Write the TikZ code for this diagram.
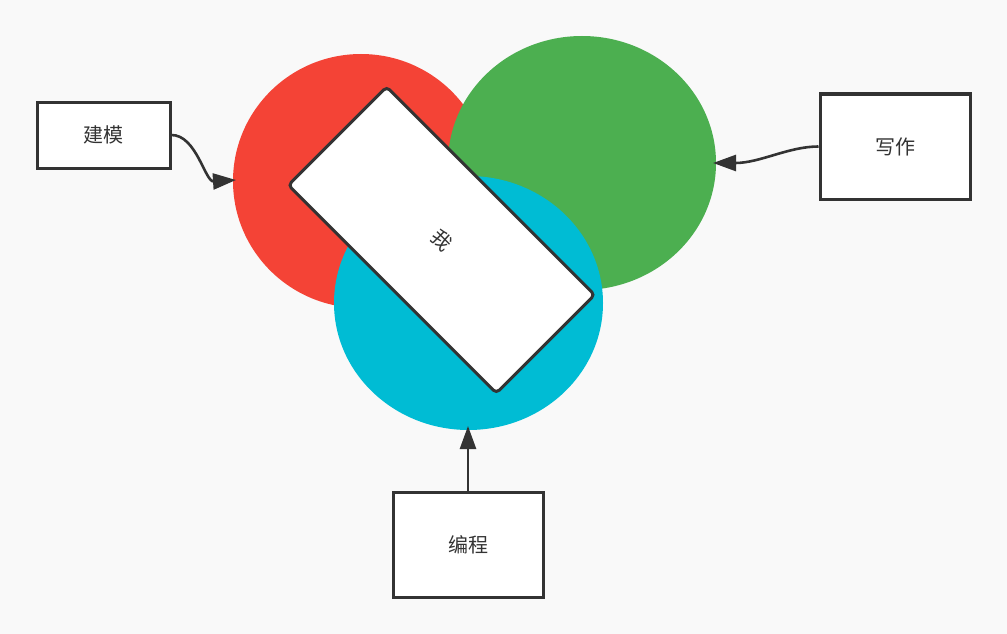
\documentclass[tikz,border=0pt]{standalone}
\usepackage{fontspec}
\setmainfont{Noto Sans CJK SC}
\usetikzlibrary{arrows.meta}
\definecolor{bg}{HTML}{F9F9F9}
\definecolor{cred}{HTML}{F44336}
\definecolor{cgreen}{HTML}{4CAF50}
\definecolor{ccyan}{HTML}{00BCD4}
\definecolor{ink}{HTML}{333333}
\newcommand{\lbl}[1]{\raisebox{-1.5pt}{#1}}
\begin{document}
\begin{tikzpicture}[x=1pt,y=-1pt,
  box/.style={draw=ink, line width=3pt, fill=white, inner sep=0pt, font=\fontsize{20}{24}\selectfont, text=ink},
  conn/.style={draw=ink, line width=2.6pt, -{Triangle[length=23pt,width=16pt]}}]
\path[fill=bg, use as bounding box] (0,0) rectangle (1007,634);
% blobs
\fill[cred] (361,181) ellipse [x radius=128pt, y radius=127pt];
\fill[cgreen] (582,163) ellipse [x radius=134pt, y radius=127pt];
\fill[ccyan] (468.5,303) ellipse [x radius=134.5pt, y radius=127pt];
\coordinate (tipL) at (236,180);
\coordinate (tipR) at (713,163);
\coordinate (tipB) at (468,426);
% center rotated box
\node[box, rounded corners=4pt, minimum width=294pt, minimum height=139pt, rotate=-45] (me) at (441.5,240) {\lbl{我}};
% side boxes
\node[box, minimum width=133pt, minimum height=66pt] (jm) at (103.5,135) {\lbl{建模}};
\node[box, minimum width=150pt, minimum height=105pt] (xz) at (895,146.5) {\lbl{写作}};
\node[box, minimum width=150pt, minimum height=105pt] (bc) at (468,544.5) {\lbl{编程}};
% connectors
\draw[conn] (jm.east) .. controls +(25,0) and (205,182) .. (tipL);
\draw[conn] (xz.west) .. controls +(-30,0) and (760,163) .. (tipR);
\draw[conn] (bc.north) -- (tipB);
\end{tikzpicture}
\end{document}
